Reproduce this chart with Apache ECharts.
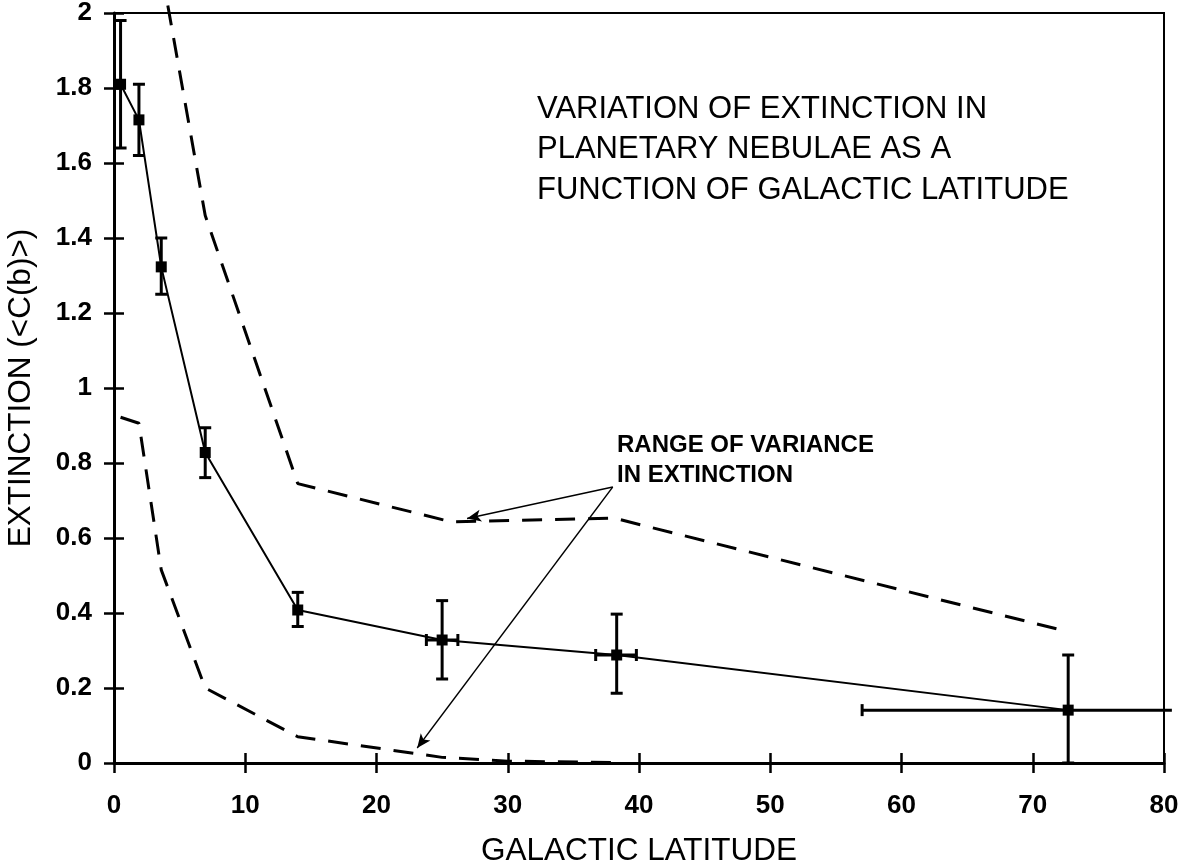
<!DOCTYPE html>
<html>
<head>
<meta charset="utf-8">
<title>Extinction vs galactic latitude</title>
<script src="https://cdn.jsdelivr.net/npm/echarts@6/dist/echarts.min.js"></script>
<style>
  html, body { margin: 0; padding: 0; background: #fff; }
  #chart { width: 1185px; height: 867px; }
</style>
</head>
<body>
<div id="chart"></div>
<script>
// mean extinction per latitude bin
const latitude   = [0.5, 1.9, 3.6, 6.95, 14, 25, 38.3, 72.7];
const extinction = [1.81, 1.715, 1.323, 0.828, 0.408, 0.328, 0.288, 0.141];
const extLow     = [1.64, 1.62, 1.25, 0.761, 0.364, 0.224, 0.186, 0];
const extHigh    = [1.98, 1.81, 1.40, 0.894, 0.455, 0.433, 0.397, 0.288];
const latLow     = [null, null, null, null, null, 23.8, 36.7, 57.0];
const latHigh    = [null, null, null, null, null, 26.2, 39.8, 80.6];

// range of variance (dashed envelopes)
const upperLat = [4.1, 6.95, 14, 25.7, 38.1, 72.7];
const upperExt = [2.02, 1.46, 0.745, 0.643, 0.653, 0.35];
const lowerLat = [0.5, 1.9, 3.6, 6.95, 14, 25, 30, 38.3];
const lowerExt = [0.922, 0.906, 0.515, 0.2, 0.07, 0.015, 0.005, 0.001];

// annotation arrows: from label to each envelope
const arrowFrom = [38.0, 0.736];
const arrowTo   = [[26.9, 0.652], [23.1, 0.04]];

const xTicks = { min: 0, max: 80, interval: 10 };
const yTicks = { min: 0, max: 2, interval: 0.2 };

const FONT = '"Liberation Sans", Arial, sans-serif';

const zip = (xs, ys) => xs.map((x, i) => [x, ys[i]]);

function renderErrorBars(params, api) {
  const i = params.dataIndex;
  const x = api.value(0);
  const st = { stroke: '#000', lineWidth: 3 };
  const cap = 6;
  const lo = api.coord([x, extLow[i]]);
  const hi = api.coord([x, extHigh[i]]);
  const children = [
    { type: 'line', shape: { x1: lo[0], y1: lo[1], x2: hi[0], y2: hi[1] }, style: st },
    { type: 'line', shape: { x1: hi[0] - cap, y1: hi[1], x2: hi[0] + cap, y2: hi[1] }, style: st },
    { type: 'line', shape: { x1: lo[0] - cap, y1: lo[1], x2: lo[0] + cap, y2: lo[1] }, style: st }
  ];
  if (latLow[i] != null) {
    const y = api.value(1);
    const l = api.coord([latLow[i], y]);
    const r = api.coord([latHigh[i], y]);
    children.push({ type: 'line', shape: { x1: l[0], y1: l[1], x2: r[0], y2: r[1] }, style: st });
    if (latLow[i] >= 0) children.push({ type: 'line', shape: { x1: l[0], y1: l[1] - cap, x2: l[0], y2: l[1] + cap }, style: st });
    if (latHigh[i] <= 80) children.push({ type: 'line', shape: { x1: r[0], y1: r[1] - cap, x2: r[0], y2: r[1] + cap }, style: st });
  }
  return { type: 'group', children };
}

const chart = echarts.init(document.getElementById('chart'), null, { renderer: 'canvas' });

chart.setOption({
  animation: false,
  backgroundColor: '#fff',
  grid: {
    left: 114, right: 21, top: 13, bottom: 104,
    outerBoundsMode: 'none', containLabel: false,
    show: true, borderColor: '#000', borderWidth: 2
  },
  xAxis: [{
    type: 'value', ...xTicks,
    name: 'GALACTIC LATITUDE', nameLocation: 'middle', nameGap: 72,
    nameTextStyle: { fontFamily: FONT, fontSize: 31.5, color: '#000' },
    axisLine: { lineStyle: { color: '#000', width: 3 } },
    axisTick: { length: 10, lineStyle: { color: '#000', width: 2.5 } },
    axisLabel: { fontFamily: FONT, fontSize: 26, fontWeight: 'bold', color: '#000', margin: 30 },
    splitLine: { show: false }
  }, {
    type: 'value', ...xTicks, position: 'bottom',
    axisLine: { show: false },
    axisTick: { inside: true, length: 10, lineStyle: { color: '#000', width: 2.5 } },
    axisLabel: { show: false },
    splitLine: { show: false }
  }],
  yAxis: [{
    type: 'value', ...yTicks,
    name: 'EXTINCTION (<C(b)>)', nameLocation: 'middle', nameGap: 77,
    nameTextStyle: { fontFamily: FONT, fontSize: 31.5, color: '#000' },
    axisLine: { lineStyle: { color: '#000', width: 3 } },
    axisTick: { length: 10, lineStyle: { color: '#000', width: 2.5 } },
    axisLabel: { fontFamily: FONT, fontSize: 26, fontWeight: 'bold', color: '#000', margin: 22 },
    splitLine: { show: false }
  }, {
    type: 'value', ...yTicks, position: 'left',
    axisLine: { show: false },
    axisTick: { inside: true, length: 10, lineStyle: { color: '#000', width: 2.5 } },
    axisLabel: { show: false },
    splitLine: { show: false }
  }],
  series: [
    {
      name: 'upper', type: 'line', data: zip(upperLat, upperExt),
      symbol: 'none', clip: false,
      lineStyle: { color: '#000', width: 3, type: [20, 13] },
      markLine: {
        silent: true, symbol: ['none', 'arrow'], symbolSize: [9, 14],
        label: { show: false },
        lineStyle: { color: '#000', width: 1.3, type: 'solid' },
        data: arrowTo.map(t => [{ coord: arrowFrom }, { coord: t }])
      }
    },
    {
      name: 'lower', type: 'line', data: zip(lowerLat, lowerExt),
      symbol: 'none',
      lineStyle: { color: '#000', width: 3, type: [20, 13] }
    },
    {
      name: 'errors', type: 'custom', data: zip(latitude, extinction),
      renderItem: renderErrorBars, z: 3
    },
    {
      name: 'mean', type: 'line', data: zip(latitude, extinction),
      symbol: 'rect', symbolSize: 11, z: 4,
      itemStyle: { color: '#000' },
      lineStyle: { color: '#000', width: 2 }
    }
  ],
  graphic: [
    {
      type: 'text', left: 537, top: 89,
      style: {
        text: 'VARIATION OF EXTINCTION IN\nPLANETARY NEBULAE AS A\nFUNCTION OF GALACTIC LATITUDE',
        font: '31px ' + FONT, lineHeight: 40.5, fill: '#000'
      }
    },
    {
      type: 'text', left: 617, top: 430,
      style: {
        text: 'RANGE OF VARIANCE\nIN EXTINCTION',
        font: 'bold 24px ' + FONT, lineHeight: 30, fill: '#000'
      }
    }
  ]
});
</script>
</body>
</html>
